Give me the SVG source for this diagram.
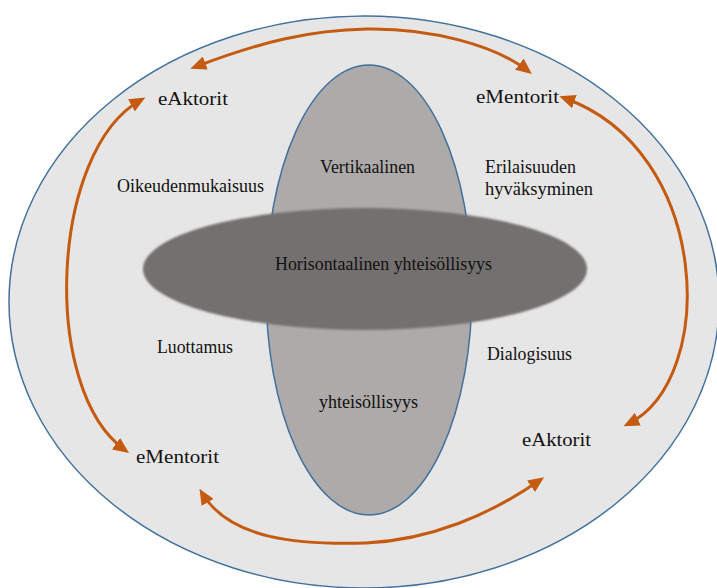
<svg xmlns="http://www.w3.org/2000/svg" width="717" height="588" viewBox="0 0 717 588">
  <style>
    .lbl { font-family: "Liberation Serif", "Times New Roman", serif; font-size: 18px; fill: #111; }
    .big { font-size: 19.5px; }
    .arc { fill: none; stroke: #c55a11; stroke-width: 3; marker-start: url(#head); marker-end: url(#head); }
  </style>
  <defs>
    <marker id="head" viewBox="0 0 16 14" refX="11" refY="7" markerWidth="16" markerHeight="14" markerUnits="userSpaceOnUse" orient="auto-start-reverse">
      <path d="M0,0 L16,7 L0,14 z" fill="#c55a11"/>
    </marker>
    <filter id="soft" x="-5%" y="-5%" width="110%" height="110%">
      <feGaussianBlur stdDeviation="0.8"/>
    </filter>
  </defs>

  <rect width="717" height="588" fill="#ffffff"/>

  <g id="outer">
    <ellipse cx="364" cy="302" rx="355" ry="286" fill="#e7e6e6" stroke="#41719c" stroke-width="1.5"/>
  </g>

  <g id="vertical">
    <ellipse cx="369" cy="290" rx="103" ry="225" fill="#aeaaaa" stroke="#41719c" stroke-width="1.5"/>
    <text class="lbl" x="320" y="173" textLength="95" lengthAdjust="spacingAndGlyphs">Vertikaalinen</text>
    <text class="lbl" x="319" y="408" textLength="99" lengthAdjust="spacingAndGlyphs">yhteisöllisyys</text>
  </g>

  <g id="horizontal">
    <ellipse cx="365" cy="269" rx="222" ry="61" fill="#747070" filter="url(#soft)"/>
    <text class="lbl" x="275" y="270" textLength="217" lengthAdjust="spacingAndGlyphs">Horisontaalinen yhteisöllisyys</text>
  </g>

  <g id="values">
    <text class="lbl" x="117" y="192" textLength="147" lengthAdjust="spacingAndGlyphs">Oikeudenmukaisuus</text>
    <text class="lbl" x="485" y="173" textLength="91" lengthAdjust="spacingAndGlyphs">Erilaisuuden</text>
    <text class="lbl" x="485" y="195" textLength="108" lengthAdjust="spacingAndGlyphs">hyväksyminen</text>
    <text class="lbl" x="157" y="353" textLength="76" lengthAdjust="spacingAndGlyphs">Luottamus</text>
    <text class="lbl" x="487" y="360" textLength="85" lengthAdjust="spacingAndGlyphs">Dialogisuus</text>
  </g>

  <g id="eaktorit-top">
    <text class="lbl big" x="158" y="105" textLength="70" lengthAdjust="spacingAndGlyphs">eAktorit</text>
  </g>
  <g id="ementorit-top">
    <text class="lbl big" x="476" y="103" textLength="83" lengthAdjust="spacingAndGlyphs">eMentorit</text>
  </g>
  <g id="ementorit-bottom">
    <text class="lbl big" x="136" y="463" textLength="83" lengthAdjust="spacingAndGlyphs">eMentorit</text>
  </g>
  <g id="eaktorit-bottom">
    <text class="lbl big" x="522" y="446" textLength="69" lengthAdjust="spacingAndGlyphs">eAktorit</text>
  </g>

  <g id="connectors">
    <path class="arc" d="M195,67 C260,42 310,30 367,29 C430,28 495,45 528,71"/>
    <path class="arc" d="M141,100 C50,150 40,390 125,450"/>
    <path class="arc" d="M564,98 C712,150 718,380 628,424"/>
    <path class="arc" d="M202,493 C230,540 300,545 366,543 C430,540 490,515 540,480"/>
  </g>
</svg>
